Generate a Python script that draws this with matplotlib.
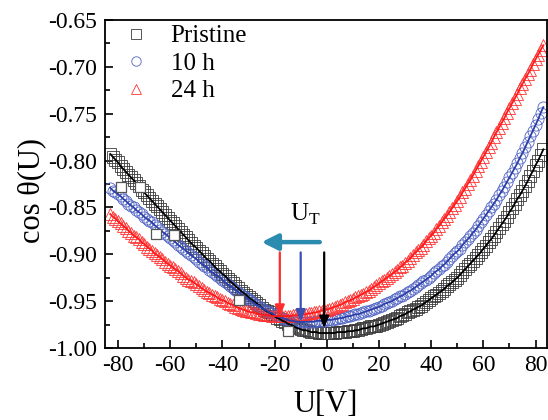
import numpy as np
import matplotlib
matplotlib.use('Agg')
import matplotlib.pyplot as plt
from matplotlib.ticker import MultipleLocator, FormatStrFormatter

plt.rcParams['font.family'] = ['Liberation Serif', 'DejaVu Serif']
plt.rcParams['mathtext.fontset'] = 'custom'
plt.rcParams['mathtext.rm'] = 'Liberation Serif'
plt.rcParams['axes.unicode_minus'] = False

# bias sweep, 1 V step from -83 V to 83 V
U = np.arange(-83, 84)

pristine = [
    -0.793, -0.796, -0.799, -0.802, -0.806, -0.809, -0.812, -0.815, -0.818, -0.821,
    -0.824, -0.827, -0.831, -0.834, -0.837, -0.840, -0.843, -0.846, -0.849, -0.852,
    -0.855, -0.858, -0.861, -0.864, -0.867, -0.870, -0.873, -0.876, -0.879, -0.882,
    -0.885, -0.888, -0.891, -0.893, -0.896, -0.899, -0.902, -0.905, -0.907, -0.910,
    -0.913, -0.916, -0.918, -0.921, -0.923, -0.926, -0.929, -0.931, -0.934, -0.936,
    -0.939, -0.941, -0.943, -0.946, -0.948, -0.950, -0.952, -0.954, -0.957, -0.959,
    -0.961, -0.962, -0.964, -0.966, -0.968, -0.969, -0.971, -0.972, -0.974, -0.975,
    -0.976, -0.978, -0.979, -0.980, -0.981, -0.981, -0.982, -0.983, -0.983, -0.983,
    -0.984, -0.984,
    -0.984, -0.984, -0.984, -0.984, -0.984, -0.983, -0.983, -0.983, -0.983, -0.982,
    -0.982, -0.982, -0.981, -0.981, -0.980, -0.979, -0.979, -0.978, -0.977, -0.977,
    -0.976, -0.975, -0.974, -0.973, -0.972, -0.971, -0.970, -0.969, -0.968, -0.966,
    -0.965, -0.964, -0.962, -0.961, -0.959, -0.958, -0.956, -0.955, -0.953, -0.951,
    -0.949, -0.947, -0.945, -0.943, -0.941, -0.939, -0.937, -0.934, -0.932, -0.930,
    -0.927, -0.925, -0.922, -0.919, -0.916, -0.913, -0.910, -0.907, -0.904, -0.901,
    -0.898, -0.894, -0.891, -0.887, -0.884, -0.880, -0.876, -0.872, -0.868, -0.864,
    -0.860, -0.855, -0.851, -0.846, -0.841, -0.837, -0.832, -0.827, -0.822, -0.816,
    -0.811, -0.805, -0.800, -0.794, -0.788,
]

h10 = [
    -0.829, -0.832, -0.834, -0.836, -0.838, -0.841, -0.843, -0.846, -0.848, -0.850,
    -0.853, -0.855, -0.857, -0.860, -0.862, -0.864, -0.866, -0.869, -0.871, -0.874,
    -0.876, -0.878, -0.880, -0.883, -0.885, -0.887, -0.890, -0.892, -0.894, -0.896,
    -0.899, -0.901, -0.903, -0.905, -0.908, -0.910, -0.912, -0.914, -0.917, -0.919,
    -0.921, -0.923, -0.925, -0.927, -0.930, -0.932, -0.934, -0.936, -0.938, -0.940,
    -0.942, -0.944, -0.946, -0.948, -0.950, -0.952, -0.954, -0.955, -0.957, -0.959,
    -0.960, -0.962, -0.963, -0.965, -0.966, -0.967, -0.968, -0.969, -0.970, -0.971,
    -0.971, -0.972, -0.972,
    -0.972, -0.972, -0.972, -0.972, -0.972, -0.972, -0.971, -0.971, -0.971, -0.971,
    -0.970, -0.970, -0.970, -0.969, -0.969, -0.968, -0.968, -0.967, -0.966, -0.966,
    -0.965, -0.964, -0.964, -0.963, -0.962, -0.961, -0.960, -0.959, -0.958, -0.957,
    -0.956, -0.955, -0.953, -0.952, -0.951, -0.950, -0.948, -0.947, -0.945, -0.944,
    -0.942, -0.940, -0.939, -0.937, -0.935, -0.933, -0.931, -0.929, -0.927, -0.925,
    -0.923, -0.920, -0.918, -0.916, -0.913, -0.911, -0.908, -0.905, -0.902, -0.899,
    -0.897, -0.894, -0.890, -0.887, -0.884, -0.881, -0.877, -0.874, -0.870, -0.866,
    -0.862, -0.858, -0.854, -0.850, -0.846, -0.842, -0.837, -0.833, -0.828, -0.823,
    -0.818, -0.813, -0.808, -0.803, -0.797, -0.792, -0.786, -0.780, -0.774, -0.768,
    -0.762, -0.756, -0.749, -0.743,
]

h24 = [
    -0.857, -0.860, -0.862, -0.865, -0.867, -0.870, -0.872, -0.875, -0.877, -0.880,
    -0.882, -0.884, -0.887, -0.889, -0.892, -0.894, -0.896, -0.899, -0.901, -0.903,
    -0.905, -0.908, -0.910, -0.912, -0.914, -0.916, -0.918, -0.920, -0.923, -0.925,
    -0.927, -0.928, -0.930, -0.932, -0.934, -0.936, -0.938, -0.940, -0.941, -0.943,
    -0.944, -0.946, -0.948, -0.949, -0.950, -0.952, -0.953, -0.954, -0.956, -0.957,
    -0.958, -0.959, -0.960, -0.961, -0.962, -0.962, -0.963, -0.964, -0.964, -0.965,
    -0.965, -0.965, -0.966, -0.966, -0.966,
    -0.966, -0.966, -0.966, -0.966, -0.966, -0.965, -0.965, -0.965, -0.965, -0.964,
    -0.964, -0.963, -0.963, -0.962, -0.962, -0.961, -0.960, -0.959, -0.959, -0.958,
    -0.957, -0.956, -0.955, -0.954, -0.953, -0.951, -0.950, -0.949, -0.948, -0.946,
    -0.945, -0.943, -0.942, -0.940, -0.939, -0.937, -0.935, -0.933, -0.931, -0.929,
    -0.927, -0.925, -0.923, -0.921, -0.919, -0.917, -0.914, -0.912, -0.909, -0.907,
    -0.904, -0.901, -0.898, -0.895, -0.893, -0.890, -0.886, -0.883, -0.880, -0.877,
    -0.873, -0.870, -0.866, -0.862, -0.859, -0.855, -0.851, -0.847, -0.843, -0.839,
    -0.834, -0.830, -0.825, -0.821, -0.816, -0.811, -0.806, -0.801, -0.796, -0.791,
    -0.786, -0.781, -0.775, -0.770, -0.765, -0.760, -0.755, -0.749, -0.744, -0.739,
    -0.734, -0.729, -0.723, -0.718, -0.713, -0.708, -0.703, -0.697, -0.692, -0.687,
    -0.682, -0.677,
]

# a few extra pristine points on the left branch
pristine_u = [-79, -71.5, -65.5, -58.5, -33.5, -15]
pristine_c = [-0.828, -0.828, -0.878, -0.879, -0.949, -0.982]

# transition voltages U_T (pristine, 10 h, 24 h)
ut = [-1, -10, -18]
ut_tip = [-0.979, -0.972, -0.967]
ut_top = -0.898
ut_colors = ['black', '#3b4fb0', '#ff2d2d']

fig = plt.figure(figsize=(5.48, 4.2), dpi=100)
ax = fig.add_axes([0.1916, 0.1714, 0.8066, 0.781])

ax.plot(U, pristine, 's', ms=8, mfc='none', mec='#3a3a3a', mew=0.6, label='Pristine')
ax.plot(U, h10, 'o', ms=8, mfc='none', mec='#5064c4', mew=0.6, label='10 h')
ax.plot(U, h24, '^', ms=8.5, mfc='none', mec='#ff3333', mew=0.6, label='24 h')

# fitted curves
ax.plot(U, pristine, '-', color='black', lw=1.3)
ax.plot(U, h10, '-', color='#2c3ea8', lw=1.3)
ax.plot(U, h24, '-', color='#ff1a1a', lw=1.3)

ax.plot(pristine_u, pristine_c, 's', ms=7.5, mfc='white', mec='#555555', mew=0.9)

for x, tip, c in zip(ut, ut_tip, ut_colors):
    ax.annotate('', xy=(x, tip), xytext=(x, ut_top),
                arrowprops=dict(arrowstyle='-|>,head_length=0.5,head_width=0.2',
                                mutation_scale=14, lw=1.6, color=c,
                                shrinkA=0, shrinkB=0))

# shift of U_T with time
ax.annotate('', xy=(-25, -0.887), xytext=(-2.7, -0.887),
            arrowprops=dict(arrowstyle='-|>,head_length=0.6,head_width=0.3',
                            mutation_scale=16, lw=3.2, color='#2b8cb0',
                            shrinkA=0, shrinkB=0))
ax.text(-8.4, -0.864, r'U$_\mathregular{T}$', fontsize=18, ha='center', va='baseline')

ax.set_xlim(-85, 84.4)
ax.set_ylim(-1.0, -0.65)
ax.xaxis.set_major_locator(MultipleLocator(20))
ax.xaxis.set_minor_locator(MultipleLocator(10))
ax.yaxis.set_major_locator(MultipleLocator(0.05))
ax.yaxis.set_minor_locator(MultipleLocator(0.025))
ax.yaxis.set_major_formatter(FormatStrFormatter('%.2f'))
ax.tick_params(which='both', direction='in', top=False, right=False,
               labelsize=17, width=1.2)
ax.tick_params(which='major', length=6)
ax.tick_params(which='minor', length=3.5)
ax.tick_params(axis='y', pad=6)
ax.tick_params(axis='x', pad=5)
for s in ax.spines.values():
    s.set_linewidth(1.3)

ax.set_xlabel('U[V]', fontsize=22)
ax.set_ylabel('cos θ(U)', fontsize=22)
ax.xaxis.set_label_coords(0.5, -0.172)
ax.xaxis.label.set_va('center')
ax.yaxis.set_label_coords(-0.165, 0.48)
ax.yaxis.label.set_va('center')

ax.legend(loc='upper left', bbox_to_anchor=(0.041, 0.985), frameon=False,
          fontsize=18, handlelength=1.0, handletextpad=0.9, labelspacing=0.2,
          borderpad=0, borderaxespad=0, markerscale=0.85)

fig.savefig('out.png', dpi=100)
